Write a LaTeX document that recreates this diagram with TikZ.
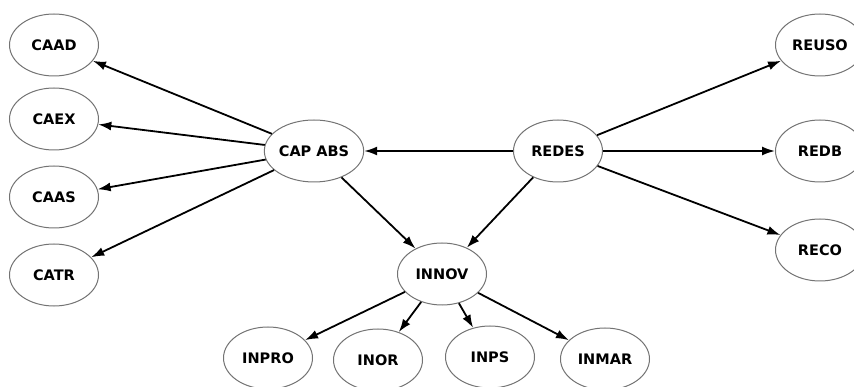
\documentclass[tikz,border=0pt]{standalone}
\usepackage{fontspec}
\setmainfont{DejaVu Sans}
\usepackage{tikz}
\usetikzlibrary{arrows.meta,shapes.geometric}

\tikzset{
  var/.style={ellipse, draw=black!55, line width=1pt, minimum width=89pt,
    minimum height=62pt, inner sep=0pt, font=\fontsize{14.5}{16}\selectfont\bfseries},
  link/.style={-{Latex[length=13pt,width=9pt]}, line width=1.8pt}
}

\begin{document}
\begin{tikzpicture}[x=1pt,y=-1pt]
\useasboundingbox (0,0) rectangle (854,387);
% capacita' di assorbimento
\node[var] (caad) at (54,45) {CAAD};
\node[var] (caex) at (54,119) {CAEX};
\node[var] (caas) at (54,197) {CAAS};
\node[var] (catr) at (54,275) {CATR};
\node[var] (cap) at (314,151) {CAP ABS};
% reti
\node[var] (redes) at (558,151) {REDES};
\node[var] (reuso) at (820,45) {REUSO};
\node[var] (redb) at (820,151) {REDB};
\node[var] (reco) at (820,250) {RECO};
% innovazione
\node[var] (innov) at (442,274) {INNOV};
\node[var] (inpro) at (268,358) {INPRO};
\node[var] (inor) at (378,360) {INOR};
\node[var] (inps) at (490,357) {INPS};
\node[var] (inmar) at (605,359) {INMAR};
% frecce
\draw[link] (cap) -- (caad);
\draw[link] (cap) -- (caex);
\draw[link] (cap) -- (caas);
\draw[link] (cap) -- (catr);
\draw[link] (redes) -- (cap);
\draw[link] (cap) -- (innov);
\draw[link] (redes) -- (innov);
\draw[link] (redes) -- (reuso);
\draw[link] (redes) -- (redb);
\draw[link] (redes) -- (reco);
\draw[link] (innov) -- (inpro);
\draw[link] (innov) -- (inor);
\draw[link] (innov) -- (inps);
\draw[link] (innov) -- (inmar);
\end{tikzpicture}
\end{document}
